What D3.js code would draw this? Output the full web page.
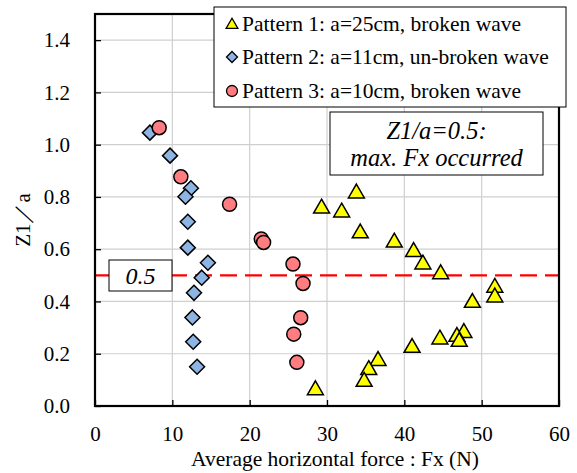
<!DOCTYPE html>
<html>
<head>
<meta charset="utf-8">
<script src="https://cdn.jsdelivr.net/npm/d3@7"></script>
</head>
<body style="margin:0; padding:0; background:#fff;">
<svg id="chart" width="577" height="473" style="display:block"></svg>
<script>
// Pattern 1: a=25cm, broken wave  (Fx [N], Z1/a)
const p1Fx = [33.8, 29.3, 31.9, 34.3, 38.7, 41.2, 42.4, 44.7, 51.7, 51.7, 48.8, 47.7, 46.8, 47.1, 44.6, 41.0, 36.6, 35.4, 34.8, 28.5];
const p1Z  = [0.814, 0.756, 0.741, 0.661, 0.626, 0.590, 0.542, 0.505, 0.453, 0.416, 0.395, 0.280, 0.265, 0.246, 0.255, 0.223, 0.173, 0.138, 0.093, 0.061];

// Pattern 2: a=11cm, un-broken wave
const p2Fx = [7.1, 9.7, 12.4, 11.7, 12.0, 12.0, 14.6, 13.8, 12.8, 12.6, 12.7, 13.2];
const p2Z  = [1.046, 0.958, 0.833, 0.801, 0.705, 0.606, 0.548, 0.491, 0.433, 0.339, 0.246, 0.150];

// Pattern 3: a=10cm, broken wave
const p3Fx = [8.3, 11.1, 17.4, 21.5, 21.8, 25.6, 26.9, 26.6, 25.7, 26.1];
const p3Z  = [1.065, 0.877, 0.772, 0.639, 0.626, 0.543, 0.469, 0.338, 0.275, 0.167];

const xTicks = [0, 10, 20, 30, 40, 50, 60];
const yTicks = [0, 0.2, 0.4, 0.6, 0.8, 1.0, 1.2, 1.4];
const refZ = 0.5;

const legendLabels = [
  "Pattern 1: a=25cm, broken wave",
  "Pattern 2: a=11cm, un-broken wave",
  "Pattern 3: a=10cm, broken wave"
];
const noteLines = ["Z1/a=0.5:", "max. Fx occurred"];
const refLabel = "0.5";
const xTitle = "Average horizontal force : Fx (N)";
const yTitle = "Z1／a";

const colors = { p1: "#FFFF00", p2: "#8DB4E2", p3: "#FF7C80" };
const SERIF = "Liberation Serif";

const svg = d3.select("#chart");
const plot = { left: 95, right: 559, top: 14, bottom: 406 };

const x = d3.scaleLinear().domain([0, 60]).range([plot.left, plot.right]);
const y = d3.scaleLinear().domain([0, 1.5]).range([plot.bottom, plot.top]);

// grid
const grid = svg.append("g").attr("stroke", "#cfcfcf").attr("stroke-width", 1.2);
grid.selectAll("line.gx").data(xTicks.slice(1, -1)).join("line")
  .attr("x1", d => x(d)).attr("x2", d => x(d))
  .attr("y1", plot.top).attr("y2", plot.bottom);
grid.selectAll("line.gy").data(yTicks.slice(1)).join("line")
  .attr("x1", plot.left).attr("x2", plot.right)
  .attr("y1", d => y(d)).attr("y2", d => y(d));

// axes with inward ticks
const xAxis = svg.append("g").attr("transform", `translate(0,${plot.bottom})`)
  .call(d3.axisBottom(x).tickValues(xTicks).tickFormat(d3.format("d"))
    .tickSizeInner(-6).tickSizeOuter(0).tickPadding(20));
const yAxis = svg.append("g").attr("transform", `translate(${plot.left},0)`)
  .call(d3.axisLeft(y).tickValues(yTicks).tickFormat(d3.format(".1f"))
    .tickSizeInner(-6).tickSizeOuter(0).tickPadding(25));
[xAxis, yAxis].forEach(g => {
  g.attr("font-family", SERIF).attr("font-size", 21);
  g.select(".domain").remove();
  g.selectAll(".tick line").attr("stroke", "#000").attr("stroke-width", 1.3);
  g.selectAll(".tick text").attr("fill", "#000");
});

// reference line Z1/a = 0.5
svg.append("line")
  .attr("x1", plot.left).attr("x2", plot.right)
  .attr("y1", y(refZ)).attr("y2", y(refZ))
  .attr("stroke", "#FF0000").attr("stroke-width", 2.2)
  .attr("stroke-dasharray", "17,8");

// plot frame
svg.append("rect")
  .attr("x", plot.left).attr("y", plot.top)
  .attr("width", plot.right - plot.left).attr("height", plot.bottom - plot.top)
  .attr("fill", "none").attr("stroke", "#000").attr("stroke-width", 2.2);

// markers
const triangle = d3.symbol().type(d3.symbolTriangle).size(110);
const diamondPath = s => `M0,${-s}L${s},0L0,${s}L${-s},0Z`;
const zip = (xs, ys) => xs.map((v, i) => [v, ys[i]]);

svg.append("g").selectAll("path").data(zip(p1Fx, p1Z)).join("path")
  .attr("d", triangle)
  .attr("transform", d => `translate(${x(d[0])},${y(d[1])})`)
  .attr("fill", colors.p1).attr("stroke", "#000").attr("stroke-width", 1.5);

svg.append("g").selectAll("path").data(zip(p2Fx, p2Z)).join("path")
  .attr("d", diamondPath(7.5))
  .attr("transform", d => `translate(${x(d[0])},${y(d[1])})`)
  .attr("fill", colors.p2).attr("stroke", "#000").attr("stroke-width", 1.5);

svg.append("g").selectAll("circle").data(zip(p3Fx, p3Z)).join("circle")
  .attr("cx", d => x(d[0])).attr("cy", d => y(d[1])).attr("r", 7)
  .attr("fill", colors.p3).attr("stroke", "#000").attr("stroke-width", 1.5);

// reference value box
const refBox = svg.append("g");
refBox.append("rect").attr("x", 109).attr("y", 260).attr("width", 63).attr("height", 31)
  .attr("fill", "#fff").attr("stroke", "#000").attr("stroke-width", 1);
refBox.append("text").attr("x", 140.5).attr("y", 283.5).attr("text-anchor", "middle")
  .attr("font-family", SERIF).attr("font-size", 24).attr("font-style", "italic")
  .text(refLabel);

// note box
const note = svg.append("g");
note.append("rect").attr("x", 330).attr("y", 112).attr("width", 213).attr("height", 63)
  .attr("fill", "#fff").attr("stroke", "#000").attr("stroke-width", 1);
note.selectAll("text").data(noteLines).join("text")
  .attr("x", 436.5).attr("y", (d, i) => 139 + i * 27)
  .attr("text-anchor", "middle")
  .attr("font-family", SERIF).attr("font-size", 24.5).attr("font-style", "italic")
  .text(d => d);

// legend
const legend = svg.append("g");
legend.append("rect").attr("x", 214).attr("y", 7).attr("width", 352).attr("height", 100)
  .attr("fill", "#fff").attr("stroke", "#000").attr("stroke-width", 1);
const rowY = [24, 57, 91];
legend.append("path").attr("d", d3.symbol().type(d3.symbolTriangle).size(60))
  .attr("transform", `translate(232,${rowY[0] + 1})`)
  .attr("fill", colors.p1).attr("stroke", "#000").attr("stroke-width", 1.3);
legend.append("path").attr("d", diamondPath(5.5))
  .attr("transform", `translate(232,${rowY[1]})`)
  .attr("fill", colors.p2).attr("stroke", "#000").attr("stroke-width", 1.3);
legend.append("circle").attr("cx", 232).attr("cy", rowY[2]).attr("r", 5.5)
  .attr("fill", colors.p3).attr("stroke", "#000").attr("stroke-width", 1.3);
legend.selectAll("text").data(legendLabels).join("text")
  .attr("x", 242).attr("y", (d, i) => rowY[i] + 7)
  .attr("font-family", SERIF).attr("font-size", 21.5)
  .text(d => d);

// axis titles
svg.append("text").attr("x", 335).attr("y", 466).attr("text-anchor", "middle")
  .attr("font-family", SERIF).attr("font-size", 21.5).text(xTitle);
svg.append("text").attr("transform", "translate(30,220) rotate(-90)")
  .attr("text-anchor", "middle")
  .attr("font-family", SERIF).attr("font-size", 21).text(yTitle);
</script>
</body>
</html>
